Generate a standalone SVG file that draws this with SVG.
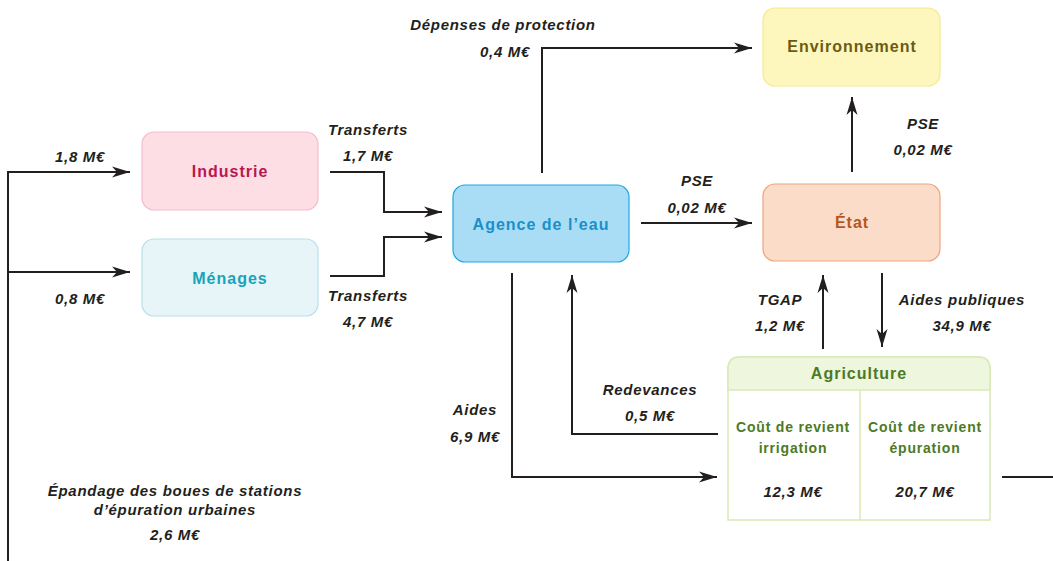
<svg xmlns="http://www.w3.org/2000/svg" width="1053" height="561" viewBox="0 0 1053 561">
<defs>
<style>
.lbl{font-family:"Liberation Sans",Arial,sans-serif;font-size:15px;font-weight:bold;font-style:italic;fill:#231f20;text-anchor:middle;letter-spacing:0.7px}
.nt{font-family:"Liberation Sans",Arial,sans-serif;font-size:16px;font-weight:bold;text-anchor:middle;letter-spacing:1px}
.sub{font-family:"Liberation Sans",Arial,sans-serif;font-size:14px;font-weight:bold;text-anchor:middle;fill:#4c7a25;letter-spacing:0.8px}
.con{fill:none;stroke:#231f20;stroke-width:2}
.arr{marker-end:url(#ah)}
</style>
<marker id="ah" markerUnits="userSpaceOnUse" markerWidth="20" markerHeight="12" refX="18" refY="6" orient="auto">
<path d="M0,0.5 L18,6 L0,11.5 L5,6 z" fill="#231f20"/>
</marker>
</defs>
<rect width="1053" height="561" fill="#ffffff"/>

<g id="connectors">
<path class="con arr" d="M8,561 V172 H130"/>
<path class="con arr" d="M8,272 H130"/>
<path class="con arr" d="M330,172 H384 V212 H442"/>
<path class="con arr" d="M330,276 H384 V237 H442"/>
<path class="con arr" d="M542,173 V48 H752"/>
<path class="con arr" d="M641,223 H752"/>
<path class="con arr" d="M852,172 V97"/>
<path class="con arr" d="M823,349 V275"/>
<path class="con arr" d="M882,273 V347"/>
<path class="con arr" d="M718,434 H572 V275"/>
<path class="con arr" d="M512,273 V477 H717"/>
<path class="con" d="M1002,477 H1053"/>
</g>

<g id="labels">
<text class="lbl" x="503" y="30">Dépenses de protection</text>
<text class="lbl" x="505" y="57">0,4 M€</text>
<text class="lbl" x="368" y="135">Transferts</text>
<text class="lbl" x="368" y="161">1,7 M€</text>
<text class="lbl" x="80" y="162">1,8 M€</text>
<text class="lbl" x="80" y="304">0,8 M€</text>
<text class="lbl" x="368" y="301">Transferts</text>
<text class="lbl" x="368" y="327">4,7 M€</text>
<text class="lbl" x="697" y="186">PSE</text>
<text class="lbl" x="697" y="213">0,02 M€</text>
<text class="lbl" x="923" y="129">PSE</text>
<text class="lbl" x="923" y="155">0,02 M€</text>
<text class="lbl" x="780" y="305">TGAP</text>
<text class="lbl" x="780" y="331">1,2 M€</text>
<text class="lbl" x="962" y="305">Aides publiques</text>
<text class="lbl" x="962" y="331">34,9 M€</text>
<text class="lbl" x="650" y="395">Redevances</text>
<text class="lbl" x="650" y="421">0,5 M€</text>
<text class="lbl" x="475" y="415">Aides</text>
<text class="lbl" x="475" y="442">6,9 M€</text>
<text class="lbl" x="175" y="496">Épandage des boues de stations</text>
<text class="lbl" x="175" y="515">d’épuration urbaines</text>
<text class="lbl" x="175" y="540">2,6 M€</text>
</g>

<g id="industrie">
<rect x="142" y="132" width="176" height="78" rx="12" fill="#fcdee4" stroke="#f7bccb" stroke-width="1.2"/>
<text class="nt" x="230" y="177" fill="#b8174f">Industrie</text>
</g>
<g id="menages">
<rect x="142" y="239" width="176" height="77" rx="12" fill="#e7f5f8" stroke="#b7e1ea" stroke-width="1.2"/>
<text class="nt" x="230" y="284" fill="#17a3b9">Ménages</text>
</g>
<g id="agence">
<rect x="453" y="185" width="176" height="77" rx="12" fill="#a9ddf5" stroke="#1ea8e0" stroke-width="1.2"/>
<text class="nt" x="541" y="230" fill="#1b8fca">Agence de l’eau</text>
</g>
<g id="environnement">
<rect x="763" y="8" width="177" height="78" rx="12" fill="#fdf7be" stroke="#f6ea8c" stroke-width="1.2"/>
<text class="nt" x="852" y="52" fill="#6b5a12">Environnement</text>
</g>
<g id="etat">
<rect x="763" y="184" width="177" height="77" rx="12" fill="#fbdcc9" stroke="#f0a37e" stroke-width="1.2"/>
<text class="nt" x="852" y="228" fill="#b5561c">État</text>
</g>
<g id="agriculture">
<path d="M728,520 V369 Q728,357 740,357 H978 Q990,357 990,369 V520 Z" fill="#ffffff" stroke="#d8eab5" stroke-width="1.5"/>
<path d="M728,390 V369 Q728,357 740,357 H978 Q990,357 990,369 V390 Z" fill="#eef6dd" stroke="#d8eab5" stroke-width="1.5"/>
<line x1="860" y1="390" x2="860" y2="520" stroke="#d8eab5" stroke-width="1.5"/>
<text class="nt" x="859" y="379" fill="#4c7a25">Agriculture</text>
<text class="sub" x="793" y="432">Coût de revient</text>
<text class="sub" x="793" y="453">irrigation</text>
<text class="lbl" x="793" y="497">12,3 M€</text>
<text class="sub" x="925" y="432">Coût de revient</text>
<text class="sub" x="925" y="453">épuration</text>
<text class="lbl" x="925" y="497">20,7 M€</text>
</g>
</svg>
